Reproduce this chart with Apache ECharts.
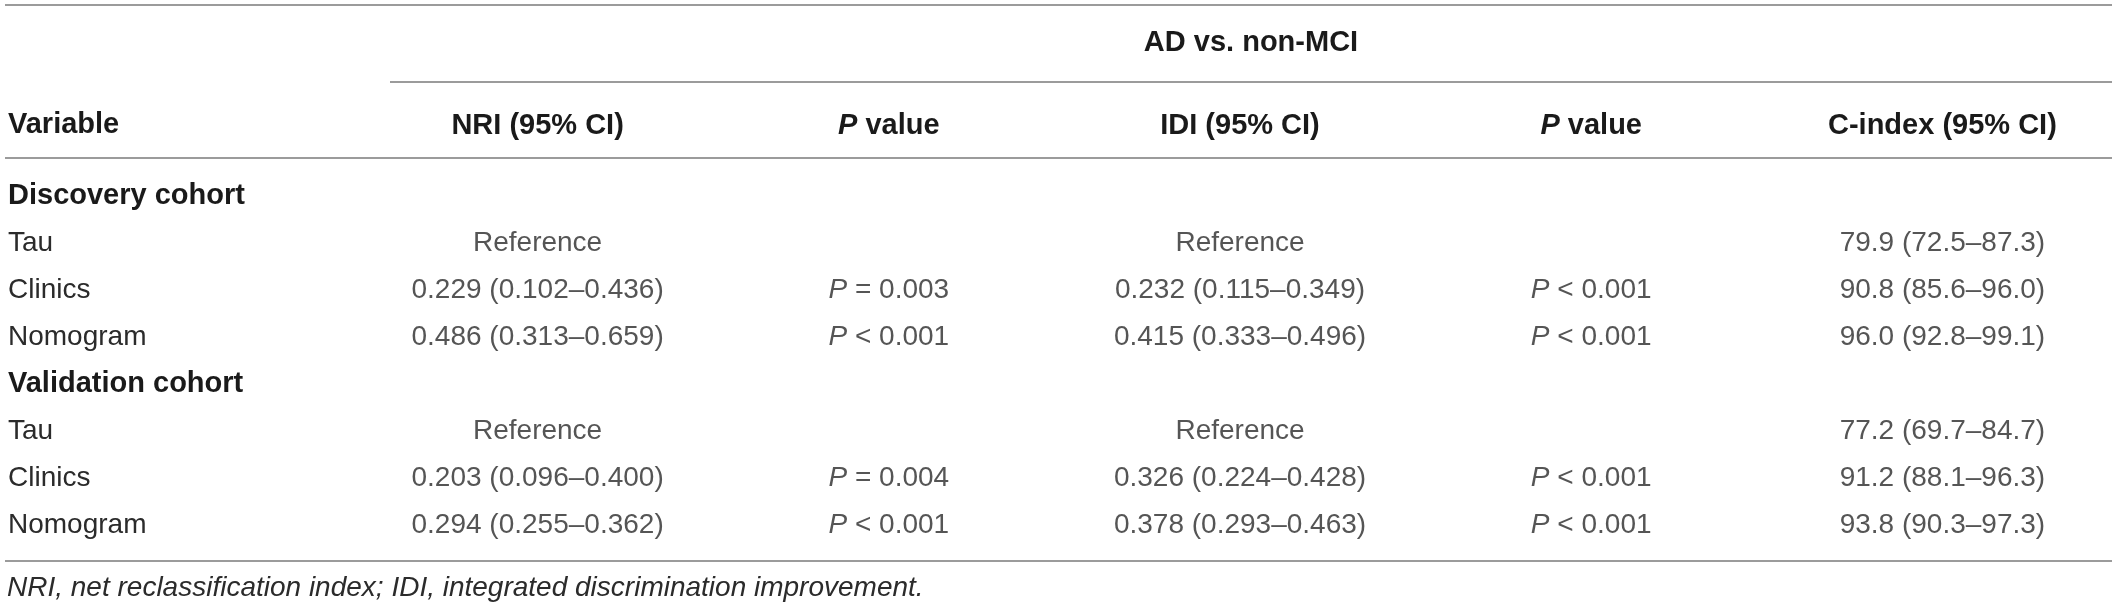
<!doctype html>
<html>
    <head>
        <meta charset="utf-8">
        <title>AD vs. non-MCI table</title>
        <style>
            html, body { margin: 0; padding: 0; background: #fff; }
            #main { width: 2118px; height: 609px; }
        </style>
    </head>
    <body>
        <div id="main"></div>
        <script src="https://cdn.jsdelivr.net/npm/echarts@6/dist/echarts.min.js"></script>
        <script>
            // table content
            var groupTitle = 'AD vs. non-MCI';
            var firstHeader = 'Variable';
            var columnHeaders = ['NRI (95% CI)', 'P value', 'IDI (95% CI)', 'P value', 'C-index (95% CI)'];
            var rowLabels = ['Discovery cohort', 'Tau', 'Clinics', 'Nomogram',
                             'Validation cohort', 'Tau', 'Clinics', 'Nomogram'];
            var cohortRows = ['Discovery cohort', 'Validation cohort'];

            var nri = ['', 'Reference', '0.229 (0.102–0.436)', '0.486 (0.313–0.659)',
                       '', 'Reference', '0.203 (0.096–0.400)', '0.294 (0.255–0.362)'];
            var nriP = ['', '', 'P = 0.003', 'P < 0.001',
                        '', '', 'P = 0.004', 'P < 0.001'];
            var idi = ['', 'Reference', '0.232 (0.115–0.349)', '0.415 (0.333–0.496)',
                       '', 'Reference', '0.326 (0.224–0.428)', '0.378 (0.293–0.463)'];
            var idiP = ['', '', 'P < 0.001', 'P < 0.001',
                        '', '', 'P < 0.001', 'P < 0.001'];
            var cIndex = ['', '79.9 (72.5–87.3)', '90.8 (85.6–96.0)', '96.0 (92.8–99.1)',
                          '', '77.2 (69.7–84.7)', '91.2 (88.1–96.3)', '93.8 (90.3–97.3)'];
            var footnote = 'NRI, net reclassification index; IDI, integrated discrimination improvement.';

            var font = '"Liberation Sans", Arial, Helvetica, sans-serif';
            var bodyColor = '#2b2b2b';
            var headColor = '#1a1a1a';
            var ruleColor = '#7a7a7a';

            // italic P in "P value" / "P < 0.001"
            function italicP(s) {
                return s.replace(/^P /, '{i|P} ');
            }

            var columns = [nri, nriP, idi, idiP, cIndex];
            var cells = [];
            columns.forEach(function (col, c) {
                col.forEach(function (text, r) {
                    if (text) {
                        cells.push([c, r, text]);
                    }
                });
            });

            var chart = echarts.init(document.getElementById('main'));

            function rule(x1, x2, y) {
                return {
                    type: 'line',
                    shape: { x1: x1, y1: y, x2: x2, y2: y },
                    style: { stroke: ruleColor, lineWidth: 1.5 },
                    silent: true
                };
            }

            chart.setOption({
                animation: false,
                backgroundColor: '#fff',
                grid: {
                    left: 362,
                    width: 1814,
                    top: 172.5,
                    height: 376
                },
                xAxis: {
                    type: 'category',
                    position: 'top',
                    data: columnHeaders,
                    axisLine: { show: false },
                    axisTick: { show: false },
                    splitLine: { show: false },
                    axisLabel: {
                        interval: 0,
                        margin: 47,
                        verticalAlign: 'middle',
                        fontFamily: font,
                        fontSize: 29,
                        fontWeight: 'bold',
                        color: headColor,
                        formatter: italicP,
                        rich: {
                            i: {
                                fontFamily: font,
                                fontSize: 29,
                                fontWeight: 'bold',
                                fontStyle: 'italic',
                                color: headColor
                            }
                        }
                    }
                },
                yAxis: {
                    type: 'category',
                    inverse: true,
                    data: rowLabels,
                    axisLine: { show: false },
                    axisTick: { show: false },
                    splitLine: { show: false },
                    axisLabel: {
                        interval: 0,
                        margin: 354,
                        align: 'left',
                        fontFamily: font,
                        fontSize: 28,
                        color: bodyColor,
                        formatter: function (v) {
                            return cohortRows.indexOf(v) >= 0 ? '{b|' + v + '}' : v;
                        },
                        rich: {
                            b: {
                                fontFamily: font,
                                fontSize: 29,
                                fontWeight: 'bold',
                                color: headColor
                            }
                        }
                    }
                },
                series: [{
                    type: 'scatter',
                    data: cells,
                    symbolSize: 1,
                    silent: true,
                    itemStyle: { color: 'rgba(0,0,0,0)' },
                    label: {
                        show: true,
                        position: 'inside',
                        fontFamily: font,
                        fontSize: 28,
                        color: bodyColor,
                        formatter: function (p) {
                            return italicP(p.value[2]);
                        },
                        rich: {
                            i: {
                                fontFamily: font,
                                fontSize: 28,
                                fontStyle: 'italic',
                                color: bodyColor
                            }
                        }
                    }
                }],
                graphic: [
                    rule(5, 2112, 5),
                    rule(390, 2112, 82),
                    rule(5, 2112, 158),
                    rule(5, 2112, 561),
                    {
                        type: 'text',
                        x: 1251,
                        y: 43,
                        style: {
                            text: groupTitle,
                            font: 'bold 29px ' + font,
                            fill: headColor,
                            align: 'center',
                            verticalAlign: 'middle'
                        }
                    },
                    {
                        type: 'text',
                        x: 8,
                        y: 125,
                        style: {
                            text: firstHeader,
                            font: 'bold 29px ' + font,
                            fill: headColor,
                            align: 'left',
                            verticalAlign: 'middle'
                        }
                    },
                    {
                        type: 'text',
                        x: 7,
                        y: 588,
                        style: {
                            text: footnote,
                            font: 'italic 28px ' + font,
                            fill: bodyColor,
                            align: 'left',
                            verticalAlign: 'middle'
                        }
                    }
                ]
            });

            window.addEventListener('resize', function () {
                chart.resize();
            });
        </script>
    </body>
</html>
